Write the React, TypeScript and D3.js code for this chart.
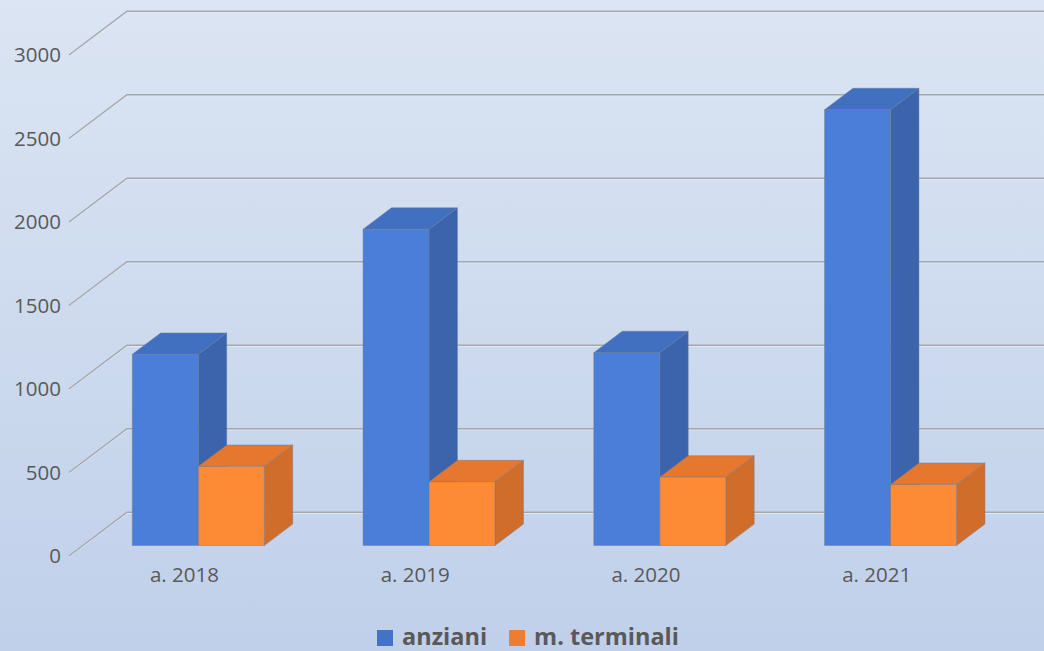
import React, { useEffect, useRef } from "react";
import * as d3 from "d3";

const categories = ["a. 2018", "a. 2019", "a. 2020", "a. 2021"];
const seriesNames = ["anziani", "m. terminali"];
const anziani = [1145, 1894, 1155, 2610];
const terminali = [474, 382, 410, 366];
const yTicks = [0, 500, 1000, 1500, 2000, 2500, 3000];

const W = 1044;
const H = 651;

export default function App() {
  const ref = useRef<SVGSVGElement | null>(null);

  useEffect(() => {
    const svg = d3.select(ref.current);
    svg.selectAll("*").remove();

    const defs = svg.append("defs");
    const grad = defs
      .append("linearGradient")
      .attr("id", "bg")
      .attr("x1", 0)
      .attr("y1", 0)
      .attr("x2", 0)
      .attr("y2", 1);
    grad.append("stop").attr("offset", "0%").attr("stop-color", "#dbe5f3");
    grad.append("stop").attr("offset", "100%").attr("stop-color", "#c0d0ea");

    svg.append("rect").attr("width", W).attr("height", H).attr("fill", "url(#bg)");

    // 3D projection parameters
    const depthX = 58;
    const depthY = -43.7;
    const barD0 = 0.24;
    const barD1 = 0.73;

    const y = d3.scaleLinear().domain([0, 3000]).range([556, 55]);
    const x = d3
      .scaleBand<string>()
      .domain(categories)
      .range([69, 992])
      .paddingInner(0.428)
      .paddingOuter(0.214);
    const xs = d3.scaleBand<string>().domain(seriesNames).range([0, x.bandwidth()]);

    const P = (px: number, py: number, d: number): [number, number] => [
      px + depthX * d,
      py + depthY * d,
    ];

    // gridlines
    const grid = svg.append("g");
    yTicks.forEach((t) => {
      const [bx, by] = P(69, y(t), 1);
      grid
        .append("path")
        .attr("d", `M69,${y(t) + 1}L${bx},${by + 1}L${W},${by + 1}`)
        .attr("fill", "none")
        .attr("stroke", "#e4ebf5")
        .attr("stroke-width", 1);
      grid
        .append("path")
        .attr("d", `M69,${y(t)}L${bx},${by}L${W},${by}`)
        .attr("fill", "none")
        .attr("stroke", "#a4a7ac")
        .attr("stroke-width", 1.4);
    });

    // y labels
    svg
      .append("g")
      .selectAll("text")
      .data(yTicks)
      .join("text")
      .attr("x", 61)
      .attr("y", (d) => y(d))
      .attr("dy", "0.36em")
      .attr("text-anchor", "end")
      .attr("font-family", "'Open Sans', sans-serif")
      .attr("font-size", 20.5)
      .attr("fill", "#595959")
      .text((d) => String(d));

    const colors: Record<string, { front: string; top: string; side: string }> = {
      anziani: { front: "#4a7ed8", top: "#4270c0", side: "#3b64ad" },
      "m. terminali": { front: "#fd8a35", top: "#e5772e", side: "#d06d2b" },
    };

    const data = categories.map((c, i) => ({
      cat: c,
      vals: [anziani[i], terminali[i]],
    }));

    const bars = svg.append("g");
    const pts = (arr: [number, number][]) => arr.map((p) => p.join(",")).join(" ");
    data.forEach((row) => {
      seriesNames.forEach((s, si) => {
        const v = row.vals[si];
        const x0 = (x(row.cat) as number) + (xs(s) as number);
        const x1 = x0 + xs.bandwidth();
        const yt = y(v);
        const yb = y(0);
        const col = colors[s];
        const fTL = P(x0, yt, barD0);
        const fTR = P(x1, yt, barD0);
        const fBR = P(x1, yb, barD0);
        const fBL = P(x0, yb, barD0);
        const bTL = P(x0, yt, barD1);
        const bTR = P(x1, yt, barD1);
        const bBR = P(x1, yb, barD1);
        const stroke = "rgba(110,120,140,0.55)";
        bars
          .append("polygon")
          .attr("points", pts([fTR, bTR, bBR, fBR]))
          .attr("fill", col.side)
          .attr("stroke", stroke)
          .attr("stroke-width", 0.8);
        bars
          .append("polygon")
          .attr("points", pts([fTL, bTL, bTR, fTR]))
          .attr("fill", col.top)
          .attr("stroke", stroke)
          .attr("stroke-width", 0.8);
        bars
          .append("polygon")
          .attr("points", pts([fTL, fTR, fBR, fBL]))
          .attr("fill", col.front)
          .attr("stroke", stroke)
          .attr("stroke-width", 0.8);
      });
    });

    // x labels
    svg
      .append("g")
      .selectAll("text")
      .data(categories)
      .join("text")
      .attr("x", (d) => (x(d) as number) + x.bandwidth() / 2)
      .attr("y", 582)
      .attr("text-anchor", "middle")
      .attr("font-family", "'Open Sans', sans-serif")
      .attr("font-size", 20.5)
      .attr("fill", "#595959")
      .text((d) => d);

    // legend
    const legendColors = ["#4472c4", "#ed7d31"];
    const legend = svg.append("g");
    let cx = 377;
    seriesNames.forEach((s, i) => {
      legend
        .append("rect")
        .attr("x", cx)
        .attr("y", 630)
        .attr("width", 16)
        .attr("height", 16)
        .attr("fill", legendColors[i]);
      const t = legend
        .append("text")
        .attr("x", cx + 25)
        .attr("y", 644.5)
        .attr("font-family", "'Open Sans', sans-serif")
        .attr("font-weight", "bold")
        .attr("font-size", 23.5)
        .attr("fill", "#595959")
        .text(s);
      const w = (t.node() as SVGTextElement).getComputedTextLength();
      cx = cx + 25 + w + 22;
    });
  }, []);

  return (
    <svg
      ref={ref}
      width={W}
      height={H}
      style={{ position: "fixed", left: 0, top: 0, display: "block" }}
    />
  );
}
